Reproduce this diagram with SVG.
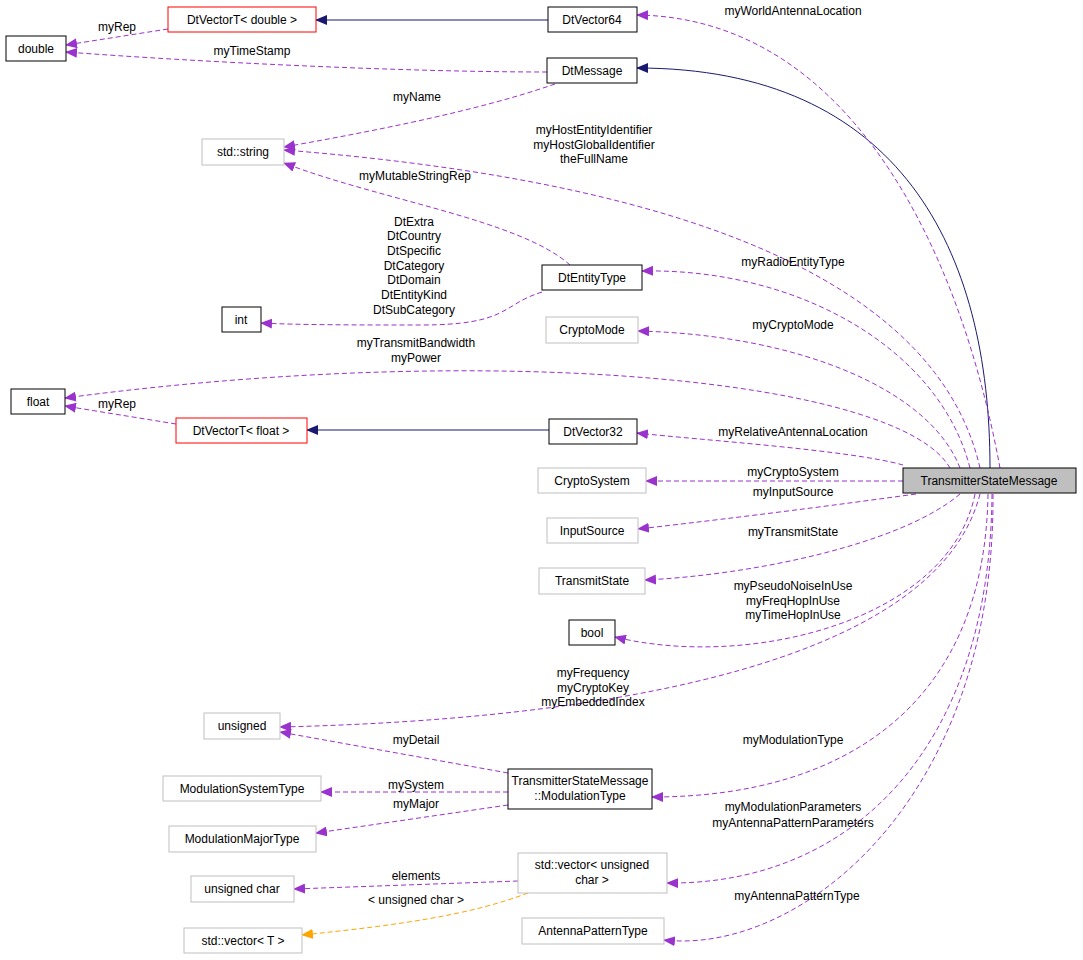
<svg xmlns="http://www.w3.org/2000/svg" width="1083" height="960" viewBox="0 0 1083 960">
<style>
text{font-family:"Liberation Sans",Arial,sans-serif;font-size:12px;fill:#000;text-anchor:middle}
.n rect{fill:#fff;stroke:#000;stroke-width:1}
.g rect{stroke:#bfbfbf}
.r rect{stroke:#ff0000}
.s rect{fill:#bfbfbf}
.e path{fill:none;stroke-width:1}
.p{stroke:#9a32cd;stroke-dasharray:5,3;marker-end:url(#mp)}
.b{stroke:#191970;marker-end:url(#mb)}
.o{stroke:#ffa500;stroke-dasharray:5,3;marker-end:url(#mo)}
</style>
<defs>
<marker id="mp" markerWidth="12" markerHeight="10" refX="11" refY="5" orient="auto" markerUnits="userSpaceOnUse"><path d="M0,0L12,5L0,10z" fill="#9a32cd"/></marker>
<marker id="mb" markerWidth="12" markerHeight="10" refX="11" refY="5" orient="auto" markerUnits="userSpaceOnUse"><path d="M0,0L12,5L0,10z" fill="#191970"/></marker>
<marker id="mo" markerWidth="12" markerHeight="10" refX="11" refY="5" orient="auto" markerUnits="userSpaceOnUse"><path d="M0,0L12,5L0,10z" fill="#ffa500"/></marker>
</defs>
<rect width="1083" height="960" fill="#fff"/>
<g class="e" id="edges">
<path class="b" d="M548,20L316,20"/>
<path class="p" d="M168,29L66,45"/>
<path class="p" d="M547,72C400,72 200,62 66,52"/>
<path class="p" d="M555,84C480,110 380,130 284,147"/>
<path class="b" d="M990,468C990,250 900,68 637,68"/>
<path class="p" d="M1000,468C960,250 850,18 637,15"/>
<path class="p" d="M980,468C930,250 600,175 284,150"/>
<path class="p" d="M570,265C520,220 380,200 284,163"/>
<path class="p" d="M542,292C500,305 510,325 420,325C360,325 300,325 261,323"/>
<path class="p" d="M970,468C940,350 800,268 642,271"/>
<path class="p" d="M960,468C930,390 800,335 638,331"/>
<path class="p" d="M950,468C900,380 500,340 65,398"/>
<path class="p" d="M176,424L65,406"/>
<path class="b" d="M549,430L307,430"/>
<path class="p" d="M903,465C850,450 700,440 637,433"/>
<path class="p" d="M903,481L646,481"/>
<path class="p" d="M916,494C800,510 700,522 638,529"/>
<path class="p" d="M960,494C900,545 750,575 645,580"/>
<path class="p" d="M975,494C950,620 750,670 615,637"/>
<path class="p" d="M980,494C930,690 500,722 280,727"/>
<path class="p" d="M508,773L280,732"/>
<path class="p" d="M508,792L321,792"/>
<path class="p" d="M508,805L316,833"/>
<path class="p" d="M988,494C985,700 850,797 652,797"/>
<path class="p" d="M992,494C990,750 850,885 667,883"/>
<path class="p" d="M518,881L294,889"/>
<path class="o" d="M528,893C470,915 400,925 302,935"/>
<path class="p" d="M993,494C995,800 800,955 664,940"/>
</g>
<g id="labels">
<text x="117" y="31">myRep</text>
<text x="252" y="55">myTimeStamp</text>
<text x="417" y="101">myName</text>
<text x="793" y="15">myWorldAntennaLocation</text>
<text x="594" y="134">myHostEntityIdentifier</text>
<text x="594" y="149">myHostGlobalIdentifier</text>
<text x="594" y="163">theFullName</text>
<text x="415" y="180">myMutableStringRep</text>
<text x="414" y="226">DtExtra</text>
<text x="414" y="240">DtCountry</text>
<text x="414" y="255">DtSpecific</text>
<text x="414" y="270">DtCategory</text>
<text x="414" y="284">DtDomain</text>
<text x="414" y="299">DtEntityKind</text>
<text x="414" y="314">DtSubCategory</text>
<text x="793" y="266">myRadioEntityType</text>
<text x="793" y="329">myCryptoMode</text>
<text x="416" y="347">myTransmitBandwidth</text>
<text x="416" y="362">myPower</text>
<text x="117" y="408">myRep</text>
<text x="793" y="436">myRelativeAntennaLocation</text>
<text x="793" y="476">myCryptoSystem</text>
<text x="793" y="496">myInputSource</text>
<text x="793" y="536">myTransmitState</text>
<text x="793" y="590">myPseudoNoiseInUse</text>
<text x="793" y="605">myFreqHopInUse</text>
<text x="793" y="619">myTimeHopInUse</text>
<text x="593" y="677">myFrequency</text>
<text x="593" y="692">myCryptoKey</text>
<text x="593" y="706">myEmbeddedIndex</text>
<text x="416" y="744">myDetail</text>
<text x="416" y="789">mySystem</text>
<text x="416" y="808">myMajor</text>
<text x="793" y="744">myModulationType</text>
<text x="793" y="811">myModulationParameters</text>
<text x="793" y="827">myAntennaPatternParameters</text>
<text x="416" y="880">elements</text>
<text x="416" y="904">&lt; unsigned char &gt;</text>
<text x="797" y="900">myAntennaPatternType</text>
</g>
<g id="double" class="n"><rect x="6" y="36" width="60" height="25"/><text x="36" y="53">double</text></g>
<g id="DtVectorT_double" class="n r"><rect x="168" y="7" width="148" height="25"/><text x="242" y="24">DtVectorT&lt; double &gt;</text></g>
<g id="DtVector64" class="n"><rect x="548" y="7" width="89" height="25"/><text x="592" y="24">DtVector64</text></g>
<g id="DtMessage" class="n"><rect x="547" y="58" width="90" height="25"/><text x="592" y="75">DtMessage</text></g>
<g id="std_string" class="n g"><rect x="202" y="139" width="82" height="26"/><text x="243" y="156">std::string</text></g>
<g id="DtEntityType" class="n"><rect x="542" y="265" width="100" height="25"/><text x="592" y="282">DtEntityType</text></g>
<g id="int" class="n"><rect x="222" y="307" width="39" height="25"/><text x="241" y="324">int</text></g>
<g id="CryptoMode" class="n g"><rect x="546" y="317" width="92" height="26"/><text x="592" y="334">CryptoMode</text></g>
<g id="float" class="n"><rect x="11" y="389" width="54" height="25"/><text x="38" y="406">float</text></g>
<g id="DtVectorT_float" class="n r"><rect x="176" y="418" width="131" height="25"/><text x="241" y="435">DtVectorT&lt; float &gt;</text></g>
<g id="DtVector32" class="n"><rect x="549" y="419" width="88" height="25"/><text x="593" y="436">DtVector32</text></g>
<g id="TransmitterStateMessage" class="n s"><rect x="903" y="468" width="173" height="25"/><text x="989" y="485">TransmitterStateMessage</text></g>
<g id="CryptoSystem" class="n g"><rect x="538" y="468" width="108" height="25"/><text x="592" y="485">CryptoSystem</text></g>
<g id="InputSource" class="n g"><rect x="547" y="518" width="91" height="25"/><text x="592" y="535">InputSource</text></g>
<g id="TransmitState" class="n g"><rect x="539" y="568" width="106" height="26"/><text x="592" y="585">TransmitState</text></g>
<g id="bool" class="n"><rect x="569" y="620" width="46" height="25"/><text x="592" y="637">bool</text></g>
<g id="unsigned" class="n g"><rect x="204" y="713" width="76" height="26"/><text x="242" y="730">unsigned</text></g>
<g id="ModulationType" class="n"><rect x="508" y="769" width="144" height="40"/><text x="580" y="785">TransmitterStateMessage</text><text x="580" y="800">::ModulationType</text></g>
<g id="ModulationSystemType" class="n g"><rect x="163" y="776" width="158" height="25"/><text x="242" y="793">ModulationSystemType</text></g>
<g id="ModulationMajorType" class="n g"><rect x="169" y="826" width="147" height="26"/><text x="242" y="843">ModulationMajorType</text></g>
<g id="vector_uchar" class="n g"><rect x="518" y="853" width="149" height="40"/><text x="592" y="869">std::vector&lt; unsigned</text><text x="592" y="884">char &gt;</text></g>
<g id="unsigned_char" class="n g"><rect x="191" y="876" width="103" height="26"/><text x="242" y="893">unsigned char</text></g>
<g id="vector_T" class="n g"><rect x="184" y="928" width="118" height="25"/><text x="243" y="945">std::vector&lt; T &gt;</text></g>
<g id="AntennaPatternType" class="n g"><rect x="522" y="918" width="142" height="26"/><text x="593" y="935">AntennaPatternType</text></g>
</svg>
